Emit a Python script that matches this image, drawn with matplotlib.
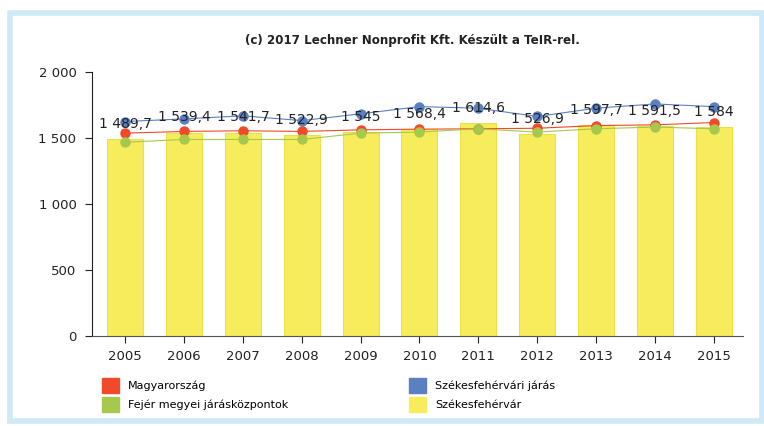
import matplotlib.pyplot as plt
from matplotlib.patches import Rectangle, Patch

# Data
years = ["2005", "2006", "2007", "2008", "2009", "2010", "2011", "2012", "2013", "2014", "2015"]
szekesfehervar = [1489.7, 1539.4, 1541.7, 1522.9, 1545, 1568.4, 1614.6, 1526.9, 1597.7, 1591.5, 1584]
bar_labels = ["1 489,7", "1 539,4", "1 541,7", "1 522,9", "1 545", "1 568,4",
              "1 614,6", "1 526,9", "1 597,7", "1 591,5", "1 584"]
jaras = [1625, 1645, 1668, 1632, 1683, 1738, 1726, 1663, 1726, 1758, 1738]
magyarorszag = [1537, 1550, 1555, 1550, 1562, 1567, 1570, 1574, 1594, 1600, 1617]
fejer = [1468, 1489, 1489, 1489, 1537, 1545, 1570, 1545, 1570, 1583, 1570]
yticks = [0, 500, 1000, 1500, 2000]
ytick_labels = ["0", "500", "1 000", "1 500", "2 000"]

c_red = "#f04a2a"
c_blue = "#5b80c2"
c_green = "#a6c84c"
c_yellow = "#f7ec5c"

fig = plt.figure(figsize=(7.64, 4.26), dpi=100)
fig.patches.append(Rectangle((0.013, 0.012), 0.984, 0.958, transform=fig.transFigure,
                             fill=False, edgecolor="#cfe9f6", linewidth=4))

ax = fig.add_axes([0.120, 0.211, 0.8525, 0.620])
x = list(range(len(years)))

ax.bar(x, szekesfehervar, width=0.61, color=c_yellow, edgecolor="#ecdf4a", linewidth=0.8, zorder=1)
ax.plot(x, jaras, color=c_blue, linewidth=0.8, marker="o", markersize=6.5, zorder=3)
ax.plot(x, magyarorszag, color=c_red, linewidth=0.8, marker="o", markersize=6.5, zorder=3)
ax.plot(x, fejer, color=c_green, linewidth=0.8, marker="o", markersize=6.5, zorder=3)

for xi, v, lab in zip(x, szekesfehervar, bar_labels):
    ax.annotate(lab, (xi, v), xytext=(0, 6), textcoords="offset points",
                ha="center", va="bottom", fontsize=10, color="#222222", zorder=5)

ax.set_xlim(-0.57, 10.5)
ax.set_ylim(0, 2000)
ax.set_xticks(x)
ax.set_xticklabels(years)
ax.set_yticks(yticks)
ax.set_yticklabels(ytick_labels)
ax.tick_params(labelsize=9.5, colors="#222222", length=5, pad=6)
ax.tick_params(axis="x", pad=5)
for s in ["top", "right"]:
    ax.spines[s].set_visible(False)
ax.spines["left"].set_color("#222222")
ax.spines["bottom"].set_color("#555555")

fig.text(0.54, 0.905, "(c) 2017 Lechner Nonprofit Kft. Készült a TeIR-rel.",
         ha="center", va="center", fontsize=8.6, fontweight="bold", color="#222222")

handles = [Patch(color=c_red), Patch(color=c_green), Patch(color=c_blue), Patch(color=c_yellow)]
names = ["Magyarország", "Fejér megyei járásközpontok", "Székesfehérvári járás", "Székesfehérvár"]
fig.legend(handles, names, ncol=2, loc="upper left", bbox_to_anchor=(0.12, 0.137),
           frameon=False, fontsize=8, handlelength=1.6, handleheight=1.7,
           columnspacing=10.8, labelspacing=0.35, handletextpad=0.8)

plt.savefig("out.png", dpi=100)
